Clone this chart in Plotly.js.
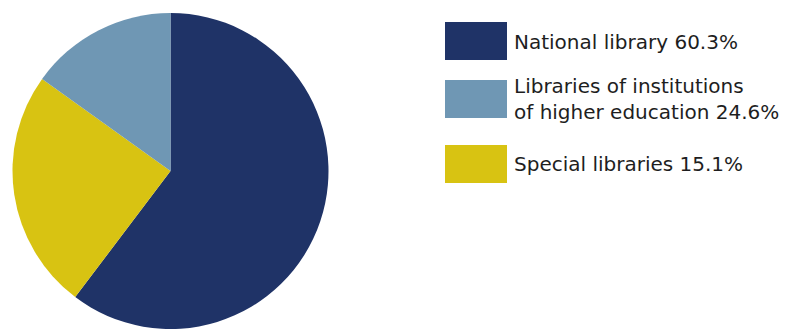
<!DOCTYPE html>
<html><head><meta charset="utf-8">
<script src="https://cdn.plot.ly/plotly-3.0.1.min.js"></script>
<style>html,body{margin:0;padding:0;background:#fff;}</style>
</head><body><div id="chart" style="width:804px;height:329px;"></div>
<script>
// Pie slices, clockwise from 12 o'clock, as drawn in the picture
const sliceNames = ["National library", "Special libraries", "Libraries of institutions of higher education"];
const sliceValues = [60.3, 24.6, 15.1];
const sliceColors = ["#1f3367", "#d8c312", "#6f97b4"];

// Legend entries as printed in the picture
const legendLabels = [
  "National library 60.3%",
  "Libraries of institutions<br>of higher education 24.6%",
  "Special libraries 15.1%"
];
const legendColors = ["#1f3367", "#6f97b4", "#d8c312"];

const W = 804, H = 329, T = 13;
const px = x => x / W;
const py = y => (H - y) / (H - T);

const swatchTops = [22, 80, 145];
const textY = [42, 99, 164];

const shapes = [], annotations = [];
legendColors.forEach((c, i) => {
  shapes.push({type: "rect", xref: "paper", yref: "paper",
    x0: px(445), x1: px(507), y0: py(swatchTops[i] + 38), y1: py(swatchTops[i]),
    fillcolor: c, line: {width: 0}});
  annotations.push({xref: "paper", yref: "paper", x: px(512), y: py(textY[i]),
    xanchor: "left", yanchor: "middle", align: "left", showarrow: false, text: legendLabels[i],
    font: {family: "DejaVu Sans", size: 20, color: "#1e1e1e"}});
});

Plotly.newPlot("chart", [{
  type: "pie", labels: sliceNames, values: sliceValues, sort: false,
  direction: "clockwise", rotation: 0,
  marker: {colors: sliceColors, line: {width: 0}},
  textinfo: "none", hoverinfo: "label+percent", showlegend: false,
  domain: {x: [px(11), px(330)], y: [0, 1]}
}], {
  width: W, height: H, margin: {l: 0, r: 0, t: T, b: 0},
  paper_bgcolor: "#fff", plot_bgcolor: "#fff",
  shapes: shapes, annotations: annotations
}, {displayModeBar: false, staticPlot: true});
</script></body></html>
